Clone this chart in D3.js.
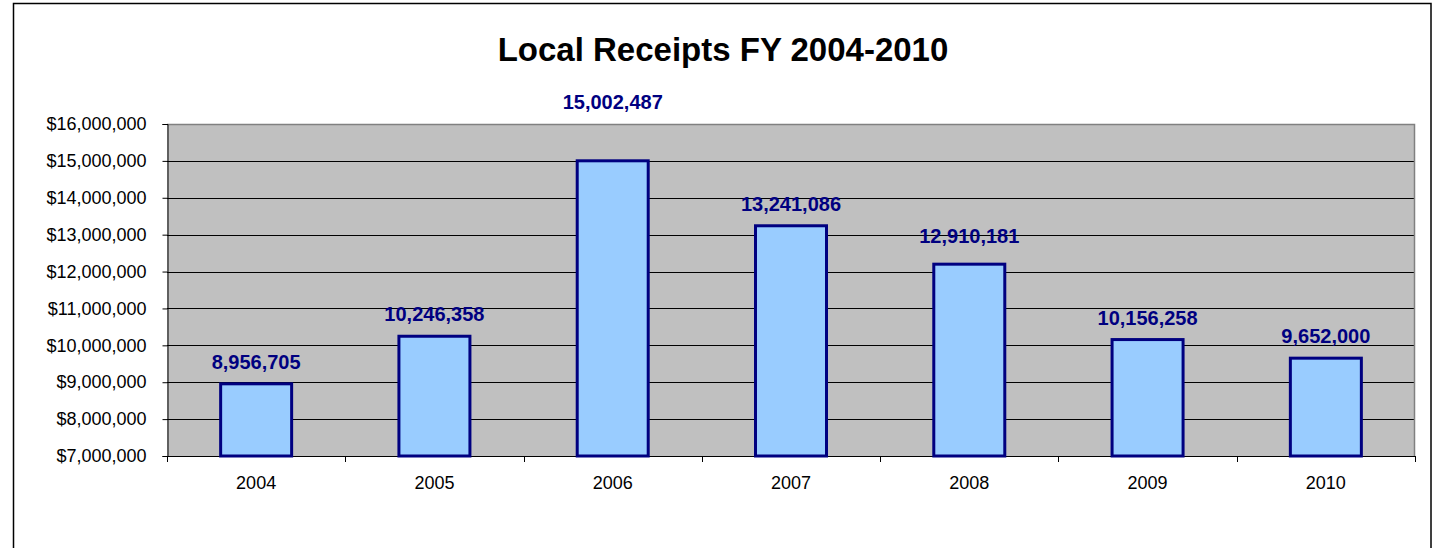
<!DOCTYPE html>
<html>
<head>
<meta charset="utf-8">
<script src="https://cdn.jsdelivr.net/npm/d3@7"></script>
<style>
  html, body { margin: 0; padding: 0; background: #fff; }
  svg { display: block; font-family: "Liberation Sans", Arial, sans-serif; }
</style>
</head>
<body>
<svg id="chart" width="1437" height="548"></svg>
<script>
const title = "Local Receipts FY 2004-2010";
const years = ["2004", "2005", "2006", "2007", "2008", "2009", "2010"];
const barValues = [8956705, 10246358, 15002487, 13241086, 12200000, 10156258, 9652000];
const labelTexts = ["8,956,705", "10,246,358", "15,002,487", "13,241,086", "12,910,181", "10,156,258", "9,652,000"];
const yTicks = [7000000, 8000000, 9000000, 10000000, 11000000, 12000000, 13000000, 14000000, 15000000, 16000000];

// layout: extra lift of some manually-placed data labels (px)
const labelLift = { "2006": 37, "2008": 6 };

const svg = d3.select("#chart");
const plot = { left: 167, right: 1415, top: 124, bottom: 456 };

// outer chart border
svg.append("rect")
  .attr("x", 13.5).attr("y", 3.5)
  .attr("width", 1431 - 13.5).attr("height", 600)
  .attr("fill", "#fff").attr("stroke", "#000").attr("stroke-width", 1.5);

// title
svg.append("text")
  .attr("x", 723).attr("y", 61)
  .attr("text-anchor", "middle")
  .attr("font-size", "33px").attr("font-weight", "bold")
  .attr("fill", "#000")
  .text(title);

const xOuter = d3.scaleBand().domain(years).range([plot.left, plot.right]).padding(0);
const y = d3.scaleLinear().domain([7000000, 16000000]).range([plot.bottom, plot.top]);

// plot background
svg.append("rect")
  .attr("x", plot.left).attr("y", plot.top)
  .attr("width", plot.right - plot.left).attr("height", plot.bottom - plot.top)
  .attr("fill", "#C0C0C0");

// gridlines
svg.append("g").selectAll("line")
  .data(yTicks.slice(1, -1))
  .join("line")
  .attr("x1", plot.left).attr("x2", plot.right)
  .attr("y1", d => Math.round(y(d)) + 0.5).attr("y2", d => Math.round(y(d)) + 0.5)
  .attr("stroke", "#000").attr("stroke-width", 1);

// plot border top/right (grey)
svg.append("path")
  .attr("d", `M${plot.left},${plot.top + 0.5}H${plot.right - 0.5}V${plot.bottom}`)
  .attr("fill", "none").attr("stroke", "#808080").attr("stroke-width", 1.5);

// y axis
const yAxis = d3.axisLeft(y)
  .tickValues(yTicks)
  .tickSize(5)
  .tickPadding(16)
  .tickFormat(d => "$" + d3.format(",")(d));
const gy = svg.append("g").attr("transform", `translate(${plot.left + 0.5},0)`).call(yAxis);
gy.select(".domain").attr("stroke", "#000");
gy.selectAll(".tick line").attr("stroke", "#000");
gy.selectAll(".tick text").attr("font-size", "18px").attr("fill", "#000")
  .attr("font-family", "'Liberation Sans', Arial, sans-serif");

// x axis: ticks between categories
const boundaries = years.map(d => xOuter(d)).concat([plot.right]);
svg.append("line")
  .attr("x1", plot.left).attr("x2", plot.right)
  .attr("y1", plot.bottom + 0.5).attr("y2", plot.bottom + 0.5)
  .attr("stroke", "#000").attr("stroke-width", 1);
svg.append("g").selectAll("line")
  .data(boundaries)
  .join("line")
  .attr("x1", d => Math.round(d) + 0.5).attr("x2", d => Math.round(d) + 0.5)
  .attr("y1", plot.bottom).attr("y2", plot.bottom + 6)
  .attr("stroke", "#000");
svg.append("g").selectAll("text")
  .data(years)
  .join("text")
  .attr("x", d => xOuter(d) + xOuter.bandwidth() / 2)
  .attr("y", 489)
  .attr("text-anchor", "middle")
  .attr("font-size", "18px").attr("fill", "#000")
  .text(d => d);

// bars
const bw = 71;
svg.append("g").selectAll("rect")
  .data(years)
  .join("rect")
  .attr("x", d => xOuter(d) + xOuter.bandwidth() / 2 - bw / 2)
  .attr("y", (d, i) => y(barValues[i]))
  .attr("width", bw)
  .attr("height", (d, i) => plot.bottom - y(barValues[i]))
  .attr("fill", "#99CCFF")
  .attr("stroke", "#000080").attr("stroke-width", 3);

// data labels
svg.append("g").selectAll("text")
  .data(years)
  .join("text")
  .attr("x", d => xOuter(d) + xOuter.bandwidth() / 2)
  .attr("y", (d, i) => y(barValues[i]) - 15 - (labelLift[d] || 0))
  .attr("text-anchor", "middle")
  .attr("font-size", "20px").attr("font-weight", "bold")
  .attr("fill", "#000080")
  .text((d, i) => labelTexts[i]);
</script>
</body>
</html>
